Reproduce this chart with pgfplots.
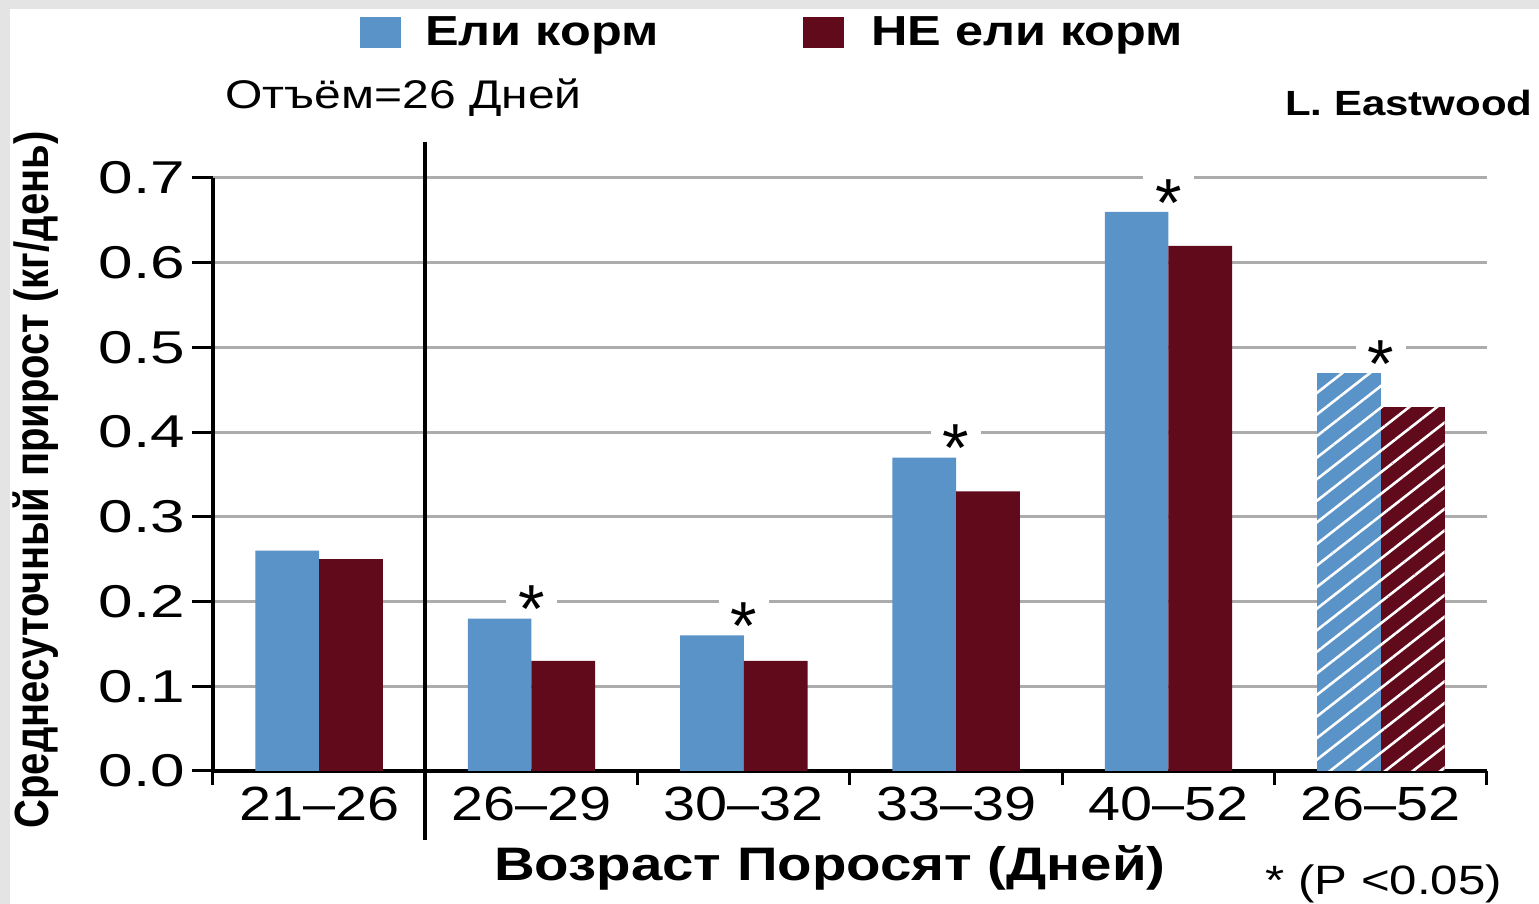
\documentclass[border=0pt]{standalone}
\usepackage{fontspec}
\setmainfont{Liberation Sans}[FakeStretch=1.2]
\newfontfamily\plainfont{Liberation Sans}
\newfontfamily\numfont[FakeStretch=1.35]{Liberation Sans}
\usepackage{pgfplots}
\pgfplotsset{compat=1.18}
\usetikzlibrary{patterns.meta}
\definecolor{myblue}{RGB}{90,147,200}
\definecolor{myred}{RGB}{96,10,28}
\definecolor{gridgray}{RGB}{172,172,172}
\definecolor{bggray}{RGB}{228,228,228}
\begin{document}
\begin{tikzpicture}
\fill[bggray] (-106.5pt,-66.5pt) rectangle (663pt,385.5pt);
\fill[white] (-101.5pt,-66.5pt) rectangle (663pt,381pt);
\begin{axis}[
  at={(0,0)}, anchor=south west,
  scale only axis, width=637pt, height=296.5pt,
  xmin=-0.5, xmax=5.5, ymin=0, ymax=0.7,
  axis x line=bottom, axis y line=left,
  axis line style={-, line width=2pt, black},
  clip=false,
  tick align=outside,
  major tick length=10.5pt,
  xtick={-0.5,0.5,...,5.5}, xticklabels={},
  xtick style={line width=1.5pt, black, /pgfplots/major tick length=7pt},
  extra x ticks={0,1,2,3,4,5},
  extra x tick labels={21–26,26–29,30–32,33–39,40–52,26–52},
  extra x tick style={tick style={draw=none}},
  x tick label style={font=\fontsize{24}{26}\selectfont, yshift=6pt},
  ytick={0,0.1,...,0.7},
  ytick style={line width=1.5pt, black},
  ymajorgrids,
  grid style={gridgray, line width=1.5pt},
  yticklabel style={/pgf/number format/fixed, /pgf/number format/fixed zerofill,
    /pgf/number format/precision=1, font=\numfont\fontsize{23}{25}\selectfont},
  /pgf/number format/assume math mode=true,
  legend columns=2,
  legend style={at={(axis description cs:0.1154,1.246)}, anchor=west, draw=none, fill=none,
    font=\bfseries\fontsize{21}{24}\selectfont, inner sep=0pt,
    /tikz/every even column/.append style={column sep=70pt}},
  legend cell align=left,
]
\addlegendimage{legend image code/.code={\fill[myblue] (0pt,-7.5pt) rectangle (20pt,7.5pt); \path (30pt,0pt);}}
\addlegendentry{Ели корм}
\addlegendimage{legend image code/.code={\fill[myred] (0pt,-7.5pt) rectangle (20pt,7.5pt); \path (32pt,0pt);}}
\addlegendentry{НЕ ели корм}

\addplot[ybar, bar width=0.3, bar shift=-0.15, fill=myblue, draw=none, forget plot]
  coordinates {(0,0.26) (1,0.18) (2,0.16) (3,0.37) (4,0.66)};
\addplot[ybar, bar width=0.3, bar shift=0.15, fill=myred, draw=none, forget plot]
  coordinates {(0,0.25) (1,0.13) (2,0.13) (3,0.33) (4,0.62)};
\addplot[ybar, bar width=0.3, bar shift=-0.15, fill=myblue, draw=none, forget plot,
  postaction={pattern={Lines[angle=38,distance=8.5pt,line width=1.3pt]}, pattern color=white}]
  coordinates {(5,0.47)};
\addplot[ybar, bar width=0.3, bar shift=0.15, fill=myred, draw=none, forget plot,
  postaction={pattern={Lines[angle=38,distance=8.5pt,line width=1.3pt]}, pattern color=white}]
  coordinates {(5,0.43)};
\addplot[draw=none, mark=none, forget plot,
  nodes near coords={\raisebox{-0.44em}{*}},
  nodes near coords style={font=\plainfont\fontsize{34}{34}\selectfont, anchor=center,
    fill=white, inner xsep=6pt, inner ysep=2pt, text depth=0pt, yshift=12pt}]
  coordinates {(1,0.18) (2,0.16) (3,0.37) (4,0.66) (5,0.47)};
\draw[line width=2pt, black] (axis cs:0.5,0.742) -- (axis cs:0.5,-0.082);
\end{axis}
\begin{scope}[x=0.5pt, y=-0.5pt, xshift=-106.5pt, yshift=385.5pt]
  \node[anchor=west, font=\fontsize{20}{22}\selectfont, inner sep=0pt] at (225,98) {Отъём=26 Дней};
  \node[anchor=east, font=\bfseries\fontsize{17.5}{20}\selectfont, inner sep=0pt] at (1533,103) {L. Eastwood};
  \node[font=\bfseries\fontsize{23.5}{26}\selectfont, inner sep=0pt] at (830,868) {Возраст Поросят (Дней)};
  \node[anchor=west, font=\fontsize{20.5}{22}\selectfont, inner sep=0pt] at (1265,884) {* (P <0.05)};
  \node[rotate=90, inner sep=0pt] at (36,480) {\scalebox{1}[1.2]{\plainfont\bfseries\fontsize{20}{22}\selectfont Среднесуточный прирост (кг/день)}};
\end{scope}
\end{tikzpicture}
\end{document}
